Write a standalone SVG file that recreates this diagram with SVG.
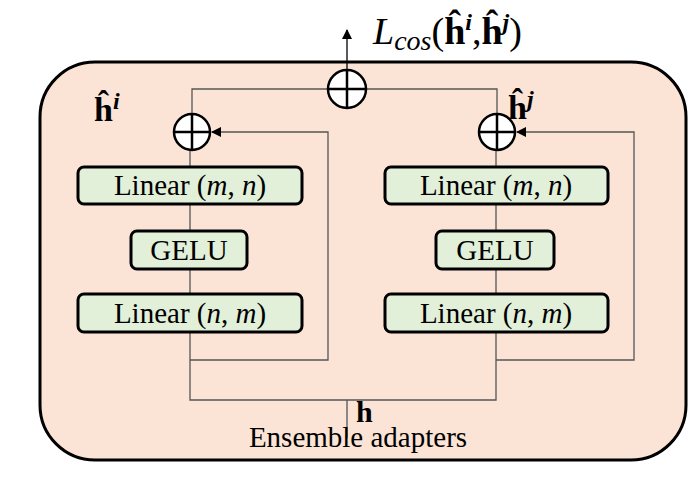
<svg xmlns="http://www.w3.org/2000/svg" width="696" height="484" viewBox="0 0 696 484">
<style>
.b{fill:#e2efd9;stroke:#000;stroke-width:3}
.t{font-family:"Liberation Serif",serif;font-size:29px;fill:#000}
.c{fill:#fff;stroke:#000;stroke-width:2.5}
.l{fill:none;stroke:#555;stroke-width:1.3}
</style>
<defs><marker id="a" markerWidth="10" markerHeight="10" refX="9" refY="5" orient="auto" markerUnits="userSpaceOnUse"><path d="M0,0L10,5L0,10z"/></marker></defs>
<rect x="40" y="62" width="646" height="398" rx="55" fill="#fbe4d6" stroke="#000" stroke-width="3"/>
<g id="connectors">
<path class="l" d="M190,132V400H496V132M347,400V438"/>
<path class="l" d="M190,360H328V132H212" marker-end="url(#a)"/>
<path class="l" d="M496,360H634V132H517" marker-end="url(#a)"/>
<path class="l" d="M192,114V89H497V114"/>
<path stroke="#000" stroke-width="1.3" d="M347,70V30" marker-end="url(#a)"/>
</g>
<g id="sumTop"><circle class="c" cx="347" cy="89" r="19"/><path stroke="#000" stroke-width="2.5" d="M328,89H366M347,70V108"/></g>
<g id="sumL"><circle class="c" cx="192" cy="132" r="18"/><path stroke="#000" stroke-width="2.5" d="M174,132H210M192,114V150"/></g>
<g id="sumR"><circle class="c" cx="497" cy="132" r="18"/><path stroke="#000" stroke-width="2.5" d="M479,132H515M497,114V150"/></g>
<g id="l1L"><rect class="b" x="78" y="167" width="224" height="37" rx="6"/><text class="t" x="190" y="195" text-anchor="middle">Linear (<tspan font-style="italic">m</tspan>, <tspan font-style="italic">n</tspan>)</text></g>
<g id="gL"><rect class="b" x="131" y="231" width="116" height="38" rx="6"/><text class="t" x="189" y="260" text-anchor="middle">GELU</text></g>
<g id="l2L"><rect class="b" x="78" y="294" width="224" height="38" rx="6"/><text class="t" x="190" y="323" text-anchor="middle">Linear (<tspan font-style="italic">n</tspan>, <tspan font-style="italic">m</tspan>)</text></g>
<g id="l1R"><rect class="b" x="385" y="167" width="223" height="37" rx="6"/><text class="t" x="496" y="195" text-anchor="middle">Linear (<tspan font-style="italic">m</tspan>, <tspan font-style="italic">n</tspan>)</text></g>
<g id="gR"><rect class="b" x="436" y="231" width="118" height="38" rx="6"/><text class="t" x="495" y="260" text-anchor="middle">GELU</text></g>
<g id="l2R"><rect class="b" x="385" y="294" width="223" height="38" rx="6"/><text class="t" x="496" y="323" text-anchor="middle">Linear (<tspan font-style="italic">n</tspan>, <tspan font-style="italic">m</tspan>)</text></g>
<g id="labels">
<text class="t" x="94" y="121" style="font-weight:bold;font-size:34px">ĥ<tspan style="font-size:24px;font-style:italic" dy="-12">i</tspan></text>
<text class="t" x="508" y="119" style="font-weight:bold;font-size:34px">ĥ<tspan style="font-size:24px;font-style:italic" dy="-12">j</tspan></text>
<text class="t" x="373" y="44" style="font-size:38px"><tspan font-style="italic">L</tspan><tspan style="font-style:italic;font-size:28px" dy="6">cos</tspan><tspan dy="-6">(</tspan><tspan font-weight="bold">ĥ</tspan><tspan style="font-weight:bold;font-style:italic;font-size:24px" dy="-14">i</tspan><tspan dy="14">,</tspan><tspan font-weight="bold">ĥ</tspan><tspan style="font-weight:bold;font-style:italic;font-size:24px" dy="-14">j</tspan><tspan dy="14">)</tspan></text>
<text class="t" x="356" y="422" style="font-weight:bold;font-size:30px">h</text>
<text class="t" x="358" y="447" text-anchor="middle">Ensemble adapters</text>
</g>
</svg>
